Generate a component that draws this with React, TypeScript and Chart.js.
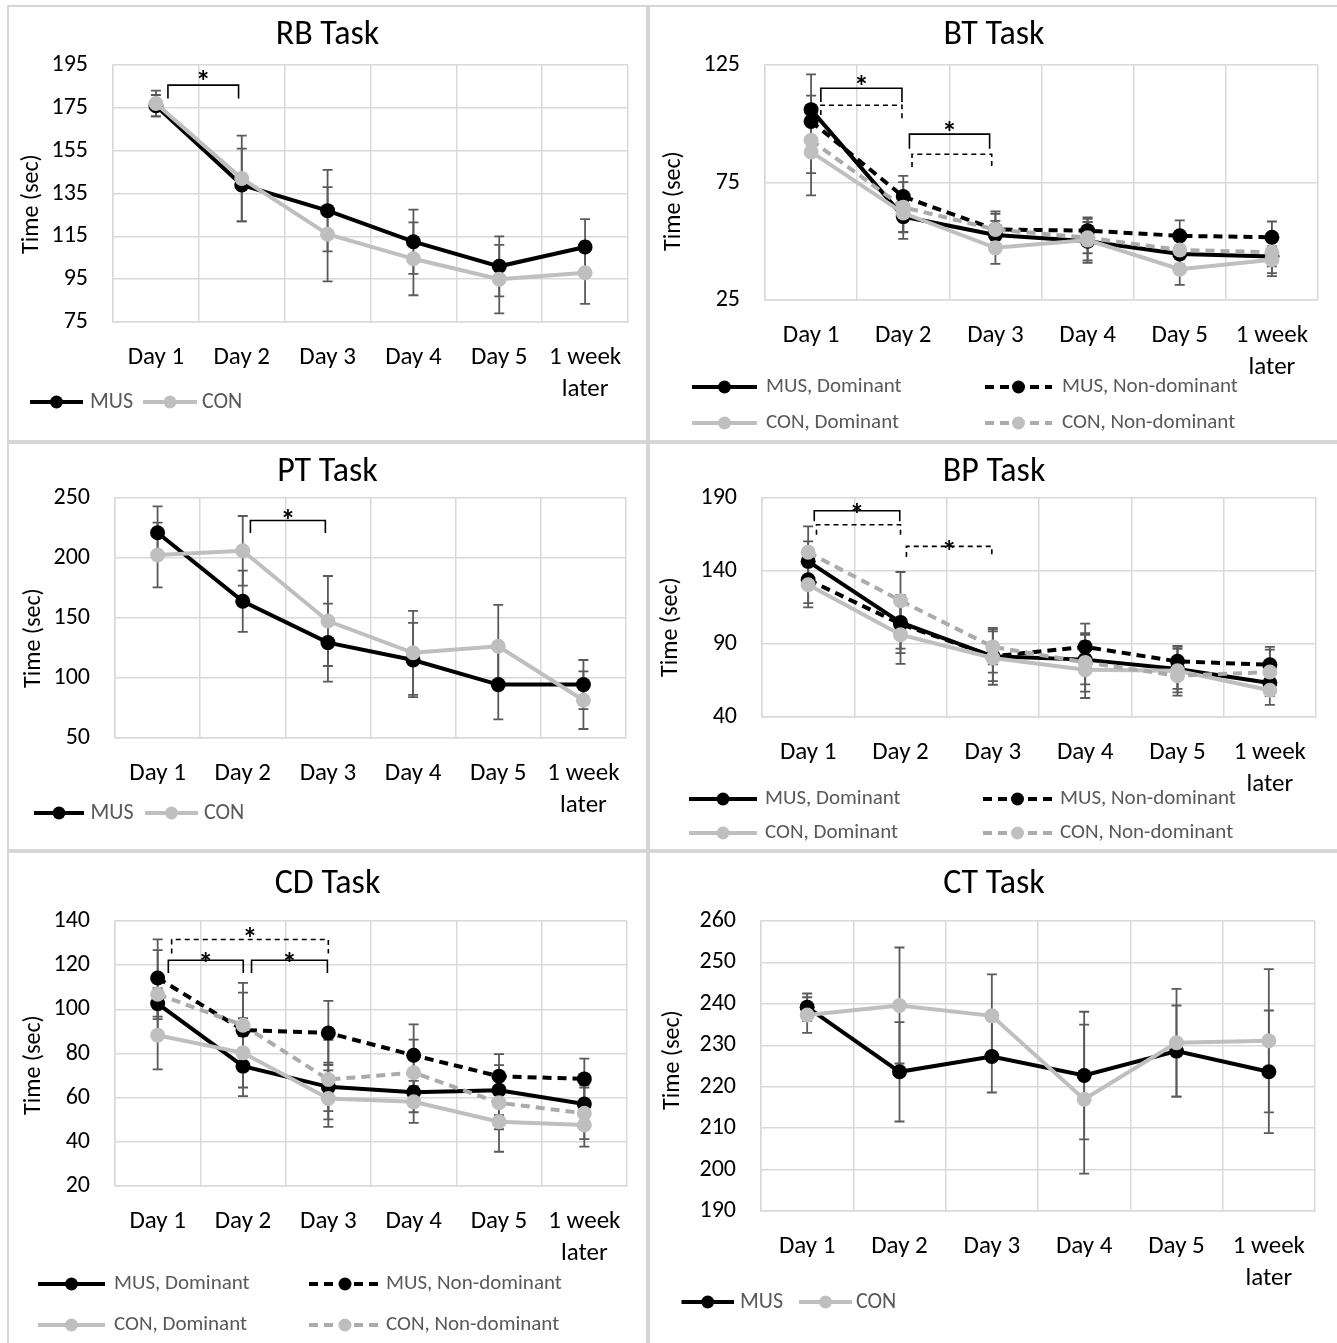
import React, { useEffect, useRef } from "react";
import { Chart, registerables } from "chart.js";

Chart.register(...registerables);

const FONT = "Calibri, Carlito, Lato, 'Open Sans', sans-serif";

// ---------- shared categories / series names ----------
const DAYS: any[] = ["Day 1", "Day 2", "Day 3", "Day 4", "Day 5", ["1 week", "later"]];
const GROUPS_2 = ["MUS", "CON"];
const GROUPS_4 = ["MUS, Dominant", "MUS, Non-dominant", "CON, Dominant", "CON, Non-dominant"];
const Y_TITLE = "Time (sec)";

// ---------- RB Task ----------
const RB_Y = [75, 195, 20];
const RB_MUS = [176, 139, 127, 112.5, 101, 110];
const RB_MUS_ERR = [5, 17, 19, 15, 14, 13];
const RB_CON = [177, 142, 116, 104.5, 95, 98];
const RB_CON_ERR = [6, 20, 22, 17, 16, 14.5];
const RB_SIG = [{ x1: 0.14, x2: 0.963, top: 185.6, t1: 179.4, t2: 179.4, dashed: false, star: 190.5 }];

// ---------- BT Task ----------
const BT_Y = [25, 125, 50];
const BT_MUS_D = [106, 60.5, 52.7, 50, 44.6, 43.5];
const BT_MUS_D_ERR = [15, 9.5, 6, 8.2, 6, 8.3];
const BT_MUS_N = [101, 69, 55, 54.5, 52.3, 51.7];
const BT_MUS_N_ERR = [11, 8.8, 7.7, 5, 6.6, 6.7];
const BT_CON_D = [88, 62, 47.2, 50.5, 38.1, 42.1];
const BT_CON_D_ERR = [18.5, 8, 6.8, 9.7, 6.7, 5.7];
const BT_CON_N = [93, 64.5, 55, 51.5, 46.3, 45.3];
const BT_CON_N_ERR = [14, 10.7, 6.7, 6.6, 6, 6];
const BT_SIG = [
  { x1: 0.106, x2: 0.986, top: 115.1, t1: 109.3, t2: 109.3, dashed: false, star: 118.6 },
  { x1: 0.106, x2: 0.986, top: 107.9, t1: 103.7, t2: 102.2, dashed: true, star: null },
  { x1: 1.067, x2: 1.937, top: 95.6, t1: 89.4, t2: 89.4, dashed: false, star: 99 },
  { x1: 1.095, x2: 1.96, top: 87.0, t1: 81.6, t2: 81.6, dashed: true, star: null },
];

// ---------- PT Task ----------
const PT_Y = [50, 250, 50];
const PT_MUS = [221, 164, 129.5, 115, 94.5, 94.5];
const PT_MUS_ERR = [22, 25.5, 32.5, 31, 29, 20.5];
const PT_CON = [202.5, 206, 147.5, 121, 126.5, 81.5];
const PT_CON_ERR = [27, 29, 37.5, 35, 34.5, 24];
const PT_SIG = [{ x1: 1.09, x2: 1.97, top: 231.3, t1: 220.8, t2: 220.8, dashed: false, star: 236.9 }];

// ---------- BP Task ----------
const BP_Y = [40, 190, 50];
const BP_MUS_D = [146.6, 104.8, 81.6, 79.3, 72.9, 63.3];
const BP_MUS_D_ERR = [13.7, 18, 17, 17, 13.7, 9];
const BP_MUS_N = [134, 103.7, 81.6, 88, 78.1, 75.8];
const BP_MUS_N_ERR = [16, 20, 19.5, 16, 10, 12.2];
const BP_CON_D = [130.6, 96.4, 80.4, 72.4, 71.7, 58.3];
const BP_CON_D_ERR = [15.5, 20, 10, 19.4, 17, 10];
const BP_CON_N = [152.8, 119.7, 88, 77.4, 68.3, 70.8];
const BP_CON_N_ERR = [17.8, 19.6, 12, 20, 11.4, 15.3];
const BP_SIG = [
  { x1: 0.066, x2: 0.992, top: 181.3, t1: 174, t2: 174, dashed: false, star: 183 },
  { x1: 0.09, x2: 1.0, top: 171.7, t1: 164.9, t2: 163.7, dashed: true, star: null },
  { x1: 1.064, x2: 1.989, top: 156.9, t1: 149.6, t2: 149.6, dashed: true, star: 158 },
];

// ---------- CD Task ----------
const CD_Y = [20, 140, 20];
const CD_MUS_D = [102.6, 74.3, 64.9, 62.4, 63.4, 57.1];
const CD_MUS_D_ERR = [7, 13.6, 11, 9, 11.3, 8.6];
const CD_MUS_N = [114.2, 90.6, 89.3, 79.2, 69.7, 68.5];
const CD_MUS_N_ERR = [17.5, 17, 14.5, 14, 10, 9.2];
const CD_CON_D = [88.3, 80.3, 59.6, 58.1, 49.1, 47.6];
const CD_CON_D_ERR = [15.5, 15.7, 12.8, 9.5, 13.6, 9.8];
const CD_CON_N = [106.8, 92.8, 68.2, 71.3, 57.7, 52.9];
const CD_CON_N_ERR = [20, 19.2, 18, 15, 12, 11.7];
const CD_SIG = [
  { x1: 0.125, x2: 1.003, top: 122.2, t1: 116.5, t2: 116.5, dashed: false, star: 123.8 },
  { x1: 1.1, x2: 1.989, top: 122.2, t1: 116.5, t2: 116.5, dashed: false, star: 123.8 },
  { x1: 0.164, x2: 2.0, top: 131.6, t1: 125.3, t2: 125.3, dashed: true, star: 135 },
];

// ---------- CT Task ----------
const CT_Y = [190, 260, 10];
const CT_MUS = [239.2, 223.6, 227.3, 222.7, 228.6, 223.6];
const CT_MUS_ERR = [3.3, 12, 8.7, 15.4, 11, 14.8];
const CT_CON = [237.3, 239.6, 237.1, 217, 230.6, 231.1];
const CT_CON_ERR = [4.3, 14, 10, 18, 13, 17.3];
const CT_SIG: any[] = [];

// ---------- styles ----------
const GRID = "#d9d9d9";
const ERR = "#5a5a5a";
const STYLE_2 = [
  { line: "#000000", point: "#000000", dash: [] as number[] },
  { line: "#bfbfbf", point: "#bfbfbf", dash: [] as number[] },
];
const STYLE_4 = [
  { line: "#000000", point: "#000000", dash: [] as number[] },
  { line: "#000000", point: "#000000", dash: [9, 6] },
  { line: "#bfbfbf", point: "#bfbfbf", dash: [] as number[] },
  { line: "#ababab", point: "#bfbfbf", dash: [9, 6] },
];

// ---------- layout (page coordinates) ----------
const PANELS: any[] = [
  {
    key: "rb", title: "RB Task", box: [7, 5, 641, 437], area: [113, 65, 628, 322], yAxis: RB_Y,
    titleY: 35, yTitle: [31.5, 204], names: GROUPS_2, styles: STYLE_2,
    series: [RB_MUS, RB_CON], errors: [RB_MUS_ERR, RB_CON_ERR], sig: RB_SIG, legendSize: 22,
    legend: [[30, 83, 90, 402], [143, 197, 202, 402]],
  },
  {
    key: "bt", title: "BT Task", box: [648, 5, 692, 437], area: [765, 65, 1318, 300], yAxis: BT_Y,
    titleY: 35, yTitle: [674, 201], names: GROUPS_4, styles: STYLE_4,
    series: [BT_MUS_D, BT_MUS_N, BT_CON_D, BT_CON_N],
    errors: [BT_MUS_D_ERR, BT_MUS_N_ERR, BT_CON_D_ERR, BT_CON_N_ERR], sig: BT_SIG, legendSize: 21,
    legend: [[692, 757, 766, 387], [985, 1052, 1062, 387], [692, 757, 766, 423], [985, 1052, 1062, 423]],
  },
  {
    key: "pt", title: "PT Task", box: [7, 442, 641, 409], area: [115, 498, 626, 738], yAxis: PT_Y,
    titleY: 472.5, yTitle: [34, 638], names: GROUPS_2, styles: STYLE_2,
    series: [PT_MUS, PT_CON], errors: [PT_MUS_ERR, PT_CON_ERR], sig: PT_SIG, legendSize: 22,
    legend: [[34, 84, 90.5, 813], [145, 198, 204, 813]],
  },
  {
    key: "bp", title: "BP Task", box: [648, 442, 692, 409], area: [762, 498, 1316, 717], yAxis: BP_Y,
    titleY: 472.5, yTitle: [671, 627], names: GROUPS_4, styles: STYLE_4,
    series: [BP_MUS_D, BP_MUS_N, BP_CON_D, BP_CON_N],
    errors: [BP_MUS_D_ERR, BP_MUS_N_ERR, BP_CON_D_ERR, BP_CON_N_ERR], sig: BP_SIG, legendSize: 21,
    legend: [[689, 757, 765, 799], [983, 1052, 1060, 799], [689, 757, 765, 833], [983, 1052, 1060, 833]],
  },
  {
    key: "cd", title: "CD Task", box: [7, 851, 641, 495], area: [115, 921, 627, 1186], yAxis: CD_Y,
    titleY: 884, yTitle: [33.7, 1065], names: GROUPS_4, styles: STYLE_4,
    series: [CD_MUS_D, CD_MUS_N, CD_CON_D, CD_CON_N],
    errors: [CD_MUS_D_ERR, CD_MUS_N_ERR, CD_CON_D_ERR, CD_CON_N_ERR], sig: CD_SIG, legendSize: 21,
    legend: [[38, 105, 114, 1284], [309, 381, 386, 1284], [38, 105, 114, 1325], [309, 381, 386, 1325]],
  },
  {
    key: "ct", title: "CT Task", box: [648, 851, 692, 495], area: [761, 921, 1315, 1211], yAxis: CT_Y,
    titleY: 884, yTitle: [673, 1060], names: GROUPS_2, styles: STYLE_2,
    series: [CT_MUS, CT_CON], errors: [CT_MUS_ERR, CT_CON_ERR], sig: CT_SIG, legendSize: 22,
    legend: [[681.5, 734, 740, 1302], [799, 852, 856, 1302]],
  },
];

function makeOverlay(p: any) {
  const [bx, by, bw] = p.box;
  return {
    id: "overlay_" + p.key,
    beforeDatasetsDraw(chart: any) {
      const { ctx } = chart;
      const xs = chart.scales.x;
      const ys = chart.scales.y;
      ctx.save();
      ctx.strokeStyle = ERR;
      ctx.lineWidth = 1.8;
      chart.data.datasets.forEach((ds: any) => {
        const errs = ds.errors;
        if (!errs) return;
        ds.data.forEach((v: number, j: number) => {
          const x = xs.getPixelForValue(j);
          const yt = ys.getPixelForValue(v + errs[j]);
          const yb = ys.getPixelForValue(v - errs[j]);
          ctx.beginPath();
          ctx.moveTo(x, yt);
          ctx.lineTo(x, yb);
          ctx.moveTo(x - 5, yt);
          ctx.lineTo(x + 5, yt);
          ctx.moveTo(x - 5, yb);
          ctx.lineTo(x + 5, yb);
          ctx.stroke();
        });
      });
      ctx.restore();
    },
    afterDatasetsDraw(chart: any) {
      const { ctx } = chart;
      const xs = chart.scales.x;
      const ys = chart.scales.y;
      const x0 = xs.getPixelForValue(0);
      const dx = xs.getPixelForValue(1) - x0;
      p.sig.forEach((b: any) => {
        const xa = x0 + b.x1 * dx;
        const xb = x0 + b.x2 * dx;
        const yTop = ys.getPixelForValue(b.top);
        ctx.save();
        ctx.strokeStyle = "#000";
        ctx.lineWidth = 1.6;
        ctx.setLineDash(b.dashed ? [5, 4] : []);
        ctx.beginPath();
        ctx.moveTo(xa, ys.getPixelForValue(b.t1));
        ctx.lineTo(xa, yTop);
        ctx.lineTo(xb, yTop);
        ctx.lineTo(xb, ys.getPixelForValue(b.t2));
        ctx.stroke();
        ctx.restore();
        if (b.star != null) {
          ctx.save();
          ctx.font = `bold 30px ${FONT}`;
          ctx.fillStyle = "#000";
          ctx.textAlign = "center";
          ctx.textBaseline = "alphabetic";
          const m = ctx.measureText("*");
          const asc = m.actualBoundingBoxAscent || 20;
          const desc = m.actualBoundingBoxDescent || -8;
          const cy = ys.getPixelForValue(b.star);
          ctx.fillText("*", (xa + xb) / 2, cy + (asc - desc) / 2);
          ctx.restore();
        }
      });
    },
    afterDraw(chart: any) {
      const { ctx } = chart;
      ctx.save();
      // title
      ctx.font = `34px ${FONT}`;
      ctx.fillStyle = "#000";
      ctx.textAlign = "center";
      ctx.textBaseline = "middle";
      ctx.fillText(p.title, bw / 2, p.titleY - by);
      // y title
      ctx.save();
      ctx.translate(p.yTitle[0] - bx, p.yTitle[1] - by);
      ctx.rotate(-Math.PI / 2);
      ctx.font = `24px ${FONT}`;
      ctx.fillText(Y_TITLE, 0, 0);
      ctx.restore();
      // legend
      p.legend.forEach((it: any, i: number) => {
        const st = p.styles[i];
        const [x1, x2, tx, y] = it;
        const yy = y - by;
        ctx.save();
        ctx.strokeStyle = st.line;
        ctx.lineWidth = 4;
        ctx.setLineDash(st.dash);
        ctx.beginPath();
        ctx.moveTo(x1 - bx, yy);
        ctx.lineTo(x2 - bx, yy);
        ctx.stroke();
        ctx.setLineDash([]);
        ctx.fillStyle = st.point;
        ctx.beginPath();
        ctx.arc((x1 + x2) / 2 - bx, yy, 6.5, 0, Math.PI * 2);
        ctx.fill();
        ctx.restore();
        ctx.font = `${p.legendSize}px ${FONT}`;
        ctx.fillStyle = "#595959";
        ctx.textAlign = "left";
        ctx.textBaseline = "middle";
        ctx.fillText(p.names[i], tx - bx, yy);
      });
      ctx.restore();
    },
  };
}

function Panel({ p }: { p: any }) {
  const ref = useRef<HTMLCanvasElement>(null);
  const [bx, by, bw, bh] = p.box;
  const [L, T, R, B] = p.area;
  useEffect(() => {
    const n = p.series.length;
    const datasets = p.series.map((data: number[], i: number) => ({
      label: p.names[i],
      data,
      errors: p.errors[i],
      borderColor: p.styles[i].line,
      backgroundColor: p.styles[i].point,
      pointBackgroundColor: p.styles[i].point,
      pointBorderColor: p.styles[i].point,
      pointBorderWidth: 0,
      pointRadius: 7.5,
      borderWidth: 4,
      borderDash: p.styles[i].dash,
      tension: 0,
      order: n - i,
      clip: false,
    }));
    const chart = new Chart(ref.current as HTMLCanvasElement, {
      type: "line",
      data: { labels: DAYS, datasets },
      options: {
        responsive: false,
        animation: false,
        devicePixelRatio: 1,
        layout: { padding: { left: 0, top: T - by, right: bx + bw - R, bottom: 0 } },
        plugins: { legend: { display: false }, title: { display: false }, tooltip: { enabled: false } },
        scales: {
          x: {
            type: "category",
            offset: true,
            grid: { color: GRID, lineWidth: 1.5, offset: true, drawTicks: true, tickLength: 19, tickColor: "rgba(0,0,0,0)" },
            border: { color: GRID, width: 1.5 },
            ticks: {
              color: "#000",
              font: { family: FONT, size: 25, lineHeight: 1.3 },
              padding: 0,
              maxRotation: 0,
              minRotation: 0,
              autoSkip: false,
            },
            afterFit: (s: any) => {
              s.height = by + bh - B;
            },
          },
          y: {
            min: p.yAxis[0],
            max: p.yAxis[1],
            grid: { color: GRID, lineWidth: 1.5, drawTicks: false },
            border: { color: GRID, width: 1.5 },
            ticks: { stepSize: p.yAxis[2], padding: 25, color: "#000", font: { family: FONT, size: 24 } },
            afterFit: (s: any) => {
              s.width = L - bx;
            },
          },
        },
      } as any,
      plugins: [makeOverlay(p)],
    });
    return () => chart.destroy();
  }, []);
  return (
    <>
      <div
        style={{
          position: "absolute",
          left: bx,
          top: by,
          width: bw,
          height: bh,
          border: "2px solid #d6d6d6",
          boxSizing: "border-box",
        }}
      />
      <canvas
        ref={ref}
        width={bw}
        height={bh}
        style={{ position: "absolute", left: bx, top: by, width: bw, height: bh }}
      />
    </>
  );
}

export default function App() {
  return (
    <div
      style={{
        position: "absolute",
        left: 0,
        top: 0,
        width: 1337,
        height: 1343,
        overflow: "hidden",
        background: "#ffffff",
      }}
    >
      {PANELS.map((p) => (
        <Panel key={p.key} p={p} />
      ))}
    </div>
  );
}
